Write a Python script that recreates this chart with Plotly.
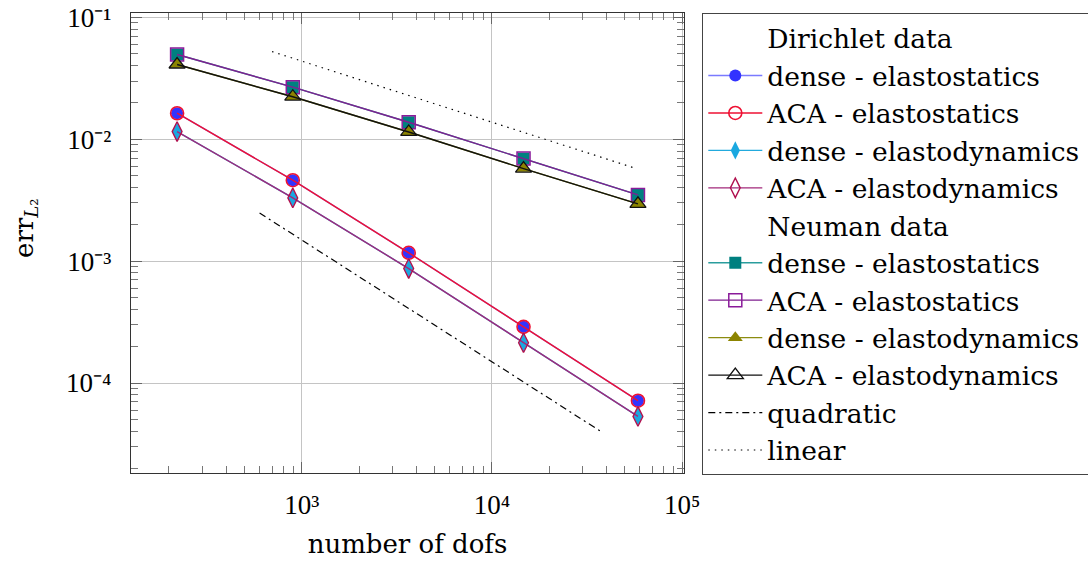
import plotly.graph_objects as go

# ---- data ----
dofs = [221, 897, 3650, 14660, 58600]

dir_dense_stat = [0.01633, 0.00461, 0.00117, 0.000289, 7.16e-5]
dir_aca_stat = [0.01633, 0.00461, 0.00117, 0.000289, 7.16e-5]
dir_dense_dyn = [0.01154, 0.0033, 0.000869, 0.000214, 5.32e-5]
dir_aca_dyn = [0.01154, 0.0033, 0.000869, 0.000214, 5.32e-5]

neu_dense_stat = [0.0495, 0.0267, 0.01377, 0.00693, 0.00349]
neu_aca_stat = [0.0495, 0.0267, 0.01377, 0.00693, 0.00349]
neu_dense_dyn = [0.041, 0.0223, 0.01146, 0.00574, 0.00295]
neu_aca_dyn = [0.041, 0.0223, 0.01146, 0.00574, 0.00295]

quad_x = [600, 38400]
quad_y = [0.00248, 3.9e-5]
lin_x = [698, 57900]
lin_y = [0.0523, 0.00572]

x_tickvals = [1e3, 1e4, 1e5]
x_ticktext = ["10³", "10⁴", "10⁵"]
y_tickvals = [1e-4, 1e-3, 1e-2, 1e-1]
y_ticktext = ["10⁻⁴", "10⁻³", "10⁻²", "10⁻¹"]

SERIF = "DejaVu Serif"
TICKFONT = "Liberation Serif"

fig = go.Figure()


def header(name):
    fig.add_trace(go.Scatter(x=[None], y=[None], mode="lines", name=name,
                             line=dict(color="rgba(0,0,0,0)", width=0),
                             hoverinfo="skip"))


def series(name, y, lcolor, symbol, mcolor, mline, size, lw=1.4, mlw=1.3):
    fig.add_trace(go.Scatter(
        x=dofs, y=y, name=name, mode="lines+markers",
        line=dict(color=lcolor, width=lw),
        marker=dict(symbol=symbol, size=size, color=mcolor,
                    line=dict(color=mline, width=mlw))))


header("Dirichlet data")
series("dense - elastostatics", dir_dense_stat, "#7a7aff", "circle", "#3333ff", "#3333ff", 12, mlw=0)
series("ACA - elastostatics", dir_aca_stat, "#ee1133", "circle-open", "#ee1133", "#ee1133", 13, mlw=1.6)
series("dense - elastodynamics", dir_dense_dyn, "#22aadd", "diamond-tall", "#1aa8e0", "#1aa8e0", 13, mlw=0)
series("ACA - elastodynamics", dir_aca_dyn, "#a2287a", "diamond-tall-open", "#b0104e", "#b0104e", 14, mlw=1.4)
header("Neuman data")
series("dense - elastostatics ", neu_dense_stat, "#2a9d9d", "square", "#008080", "#008080", 12, mlw=0)
series("ACA - elastostatics ", neu_aca_stat, "#7f1f8f", "square-open", "#8a1a9a", "#8a1a9a", 13, mlw=1.5)
series("dense - elastodynamics ", neu_dense_dyn, "#8c8c10", "triangle-up", "#8c8400", "#8c8400", 13, mlw=0)
series("ACA - elastodynamics ", neu_aca_dyn, "#111111", "triangle-up-open", "#111111", "#111111", 14, mlw=1.3)

fig.add_trace(go.Scatter(x=quad_x, y=quad_y, name="quadratic", mode="lines",
                         line=dict(color="black", width=1.2, dash="7px,4px,2px,4px")))
fig.add_trace(go.Scatter(x=lin_x, y=lin_y, name="linear", mode="lines",
                         line=dict(color="black", width=1.2, dash="1.5px,5px")))

axis_common = dict(
    type="log", showline=True, linecolor="#333333", linewidth=1.3, mirror="allticks",
    ticks="inside", ticklen=11, tickcolor="#666666", tickwidth=1,
    showgrid=True, gridcolor="#c4c4c4", gridwidth=1, zeroline=False,
    tickfont=dict(family=TICKFONT, size=27, color="black"),
    ticklabeloverflow="allow",
    minor=dict(ticks="inside", ticklen=7, tickcolor="#777777", tickwidth=1,
               dtick="D1", showgrid=False),
)

fig.update_layout(
    width=1088, height=563,
    margin=dict(l=131, r=404, t=13, b=90, autoexpand=False),
    paper_bgcolor="white", plot_bgcolor="white",
    font=dict(family=SERIF, size=26, color="black"),
    showlegend=True,
    legend=dict(
        xref="container", yref="container",
        x=702 / 1088, y=1 - 13 / 563, xanchor="left", yanchor="top",
        bgcolor="white", bordercolor="#444444", borderwidth=1.3,
        font=dict(family=SERIF, size=26.5, color="black"),
        itemwidth=54, tracegroupgap=0, traceorder="normal",
        maxheight=1.0,
    ),
    xaxis=dict(axis_common, range=[2.102, 5.01], tickmode="array",
               tickvals=x_tickvals, ticktext=x_ticktext, ticklabelstandoff=7,
               title=dict(text="number of dofs", font=dict(family=SERIF, size=26), standoff=16)),
    yaxis=dict(axis_common, range=[-4.738, -0.965], tickmode="array",
               tickvals=y_tickvals, ticktext=y_ticktext, ticklabelstandoff=13),
    annotations=[dict(text="err<sub><i>L</i>₂</sub>",
                      textangle=-90,
                      xref="paper", yref="paper",
                      x=(26 - 131) / 553, y=(473 - 228) / 460,
                      xanchor="center", yanchor="middle", showarrow=False,
                      font=dict(family=SERIF, size=26, color="black"))],
)

fig.write_html("out.html")
